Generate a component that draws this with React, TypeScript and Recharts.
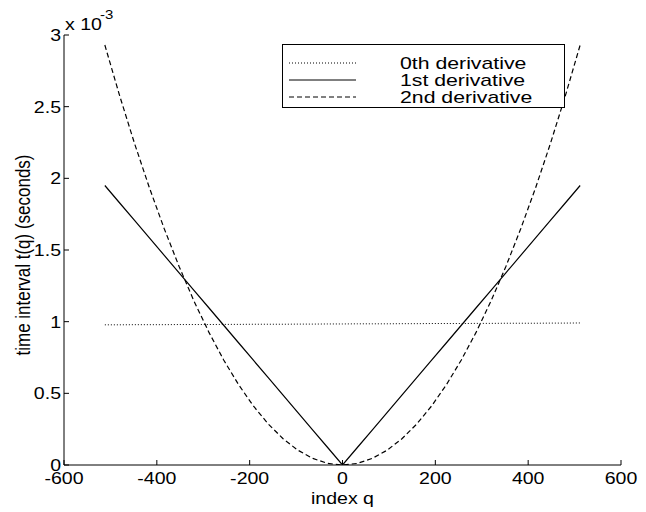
import React from 'react';
import { LineChart, Line, XAxis, YAxis } from 'recharts';

const qIndex = [-512, -480, -448, -416, -384, -352, -320, -288, -256, -224, -192, -160, -128, -96, -64, -32, 0, 32, 64, 96, 128, 160, 192, 224, 256, 288, 320, 352, 384, 416, 448, 480, 512];
const zerothDerivative = [0.978, 0.978, 0.979, 0.979, 0.979, 0.98, 0.98, 0.98, 0.981, 0.981, 0.982, 0.982, 0.982, 0.983, 0.983, 0.984, 0.984, 0.985, 0.985, 0.985, 0.986, 0.986, 0.987, 0.987, 0.987, 0.988, 0.988, 0.989, 0.989, 0.989, 0.99, 0.99, 0.991];
const firstDerivative = [1.95, 1.828, 1.706, 1.584, 1.463, 1.341, 1.219, 1.097, 0.975, 0.853, 0.731, 0.609, 0.488, 0.366, 0.244, 0.122, 0, 0.122, 0.244, 0.366, 0.488, 0.609, 0.731, 0.853, 0.975, 1.097, 1.219, 1.341, 1.463, 1.584, 1.706, 1.828, 1.95];
const secondDerivative = [2.93, 2.575, 2.243, 1.934, 1.648, 1.385, 1.144, 0.927, 0.733, 0.561, 0.412, 0.286, 0.183, 0.103, 0.046, 0.011, 0, 0.011, 0.046, 0.103, 0.183, 0.286, 0.412, 0.561, 0.733, 0.927, 1.144, 1.385, 1.648, 1.934, 2.243, 2.575, 2.93];

const xTicks = [-600, -400, -200, 0, 200, 400, 600];
const yTicks = [0, 0.5, 1, 1.5, 2, 2.5, 3];
const legendLabels = ['0th derivative', '1st derivative', '2nd derivative'];

const data = qIndex.map((q, i) => ({
  q,
  zeroth: zerothDerivative[i],
  first: firstDerivative[i],
  second: secondDerivative[i],
}));

const FONT = '"Liberation Sans", Arial, Helvetica, sans-serif';
const FS = 17;
const SX = 1.15;

const BottomTick = (p: any) => {
  const { x, y, payload } = p;
  return (
    <g>
      <line x1={x} x2={x} y1={y} y2={y - 5} stroke="#000" strokeWidth={1} />
      <text transform={`translate(${x},${y + 19}) scale(${SX},1)`} textAnchor="middle" fontSize={FS} fontFamily={FONT} fill="#000">
        {payload.value}
      </text>
    </g>
  );
};

const TopTick = (p: any) => {
  const { x, y } = p;
  return <line x1={x} x2={x} y1={y} y2={y + 5} stroke="#000" strokeWidth={1} />;
};

const LeftTick = (p: any) => {
  const { x, y, payload } = p;
  return (
    <g>
      <line x1={x} x2={x + 5} y1={y} y2={y} stroke="#000" strokeWidth={1} />
      <text transform={`translate(${x - 3},${y + 6}) scale(${SX},1)`} textAnchor="end" fontSize={FS} fontFamily={FONT} fill="#000">
        {payload.value}
      </text>
    </g>
  );
};

const RightTick = (p: any) => {
  const { x, y } = p;
  return <line x1={x} x2={x - 5} y1={y} y2={y} stroke="#000" strokeWidth={1} />;
};

const YLabel = (p: any) => {
  const vb = p.viewBox || { x: 4, y: 35, width: 60, height: 430 };
  const cy = vb.y + vb.height / 2 + 5;
  return (
    <g>
      <text transform={`translate(30,${cy}) rotate(-90) scale(1,${SX})`} textAnchor="middle" fontSize={FS} fontFamily={FONT} fill="#000">
        time interval t(q) (seconds)
      </text>
      <text transform={`translate(${vb.x + vb.width + 1},30) scale(${SX},1)`} fontSize={FS} fontFamily={FONT} fill="#000">
        x 10
      </text>
      <text transform={`translate(${vb.x + vb.width + 36},19) scale(${SX},1)`} fontSize={13} fontFamily={FONT} fill="#000">
        -3
      </text>
    </g>
  );
};

const XLabel = (p: any) => {
  const vb = p.viewBox || { x: 64, y: 465, width: 557, height: 30 };
  return (
    <text transform={`translate(${vb.x + vb.width / 2},504) scale(${SX},1)`} textAnchor="middle" fontSize={FS} fontFamily={FONT} fill="#000">
      index q
    </text>
  );
};

const legendStyles = [
  { dash: '1 2' },
  { dash: undefined },
  { dash: '5 3' },
];

const LegendBox = () => (
  <div style={{ position: 'absolute', left: 282, top: 44, width: 283, height: 64, border: '1px solid #000', background: '#fff', boxSizing: 'border-box' }}>
    <svg width={281} height={62}>
      {legendLabels.map((label, i) => {
        const cy = 18 + i * 17;
        return (
          <g key={label}>
            <line x1={6} x2={73} y1={cy} y2={cy} stroke="#000" strokeWidth={1} strokeDasharray={legendStyles[i].dash} />
            <text transform={`translate(117,${cy + 6}) scale(${SX + 0.1},1)`} fontSize={FS} fontFamily={FONT} fill="#000">
              {label}
            </text>
          </g>
        );
      })}
    </svg>
  </div>
);

export default function App() {
  return (
    <div style={{ position: 'absolute', left: 0, top: 0, width: 646, height: 512, background: '#fff' }}>
      <LineChart width={646} height={512} data={data} margin={{ top: 35, right: 25, bottom: 17, left: 4 }}>
        <XAxis
          dataKey="q"
          type="number"
          domain={[-600, 600]}
          ticks={xTicks}
          interval={0}
          tickSize={0}
          tickMargin={0}
          tickLine={false}
          tick={<BottomTick />}
          axisLine={{ stroke: '#000', strokeWidth: 1 }}
          height={30}
          label={<XLabel />}
          allowDataOverflow
        />
        <XAxis
          xAxisId="top"
          orientation="top"
          dataKey="q"
          type="number"
          domain={[-600, 600]}
          ticks={xTicks}
          interval={0}
          tickSize={0}
          tickMargin={0}
          tickLine={false}
          tick={<TopTick />}
          axisLine={{ stroke: '#000', strokeWidth: 1 }}
          height={0}
          allowDataOverflow
        />
        <YAxis
          type="number"
          domain={[0, 3]}
          ticks={yTicks}
          interval={0}
          tickSize={0}
          tickMargin={0}
          tickLine={false}
          tick={<LeftTick />}
          axisLine={{ stroke: '#000', strokeWidth: 1 }}
          width={60}
          label={<YLabel />}
          allowDataOverflow
        />
        <YAxis
          yAxisId="right"
          orientation="right"
          type="number"
          domain={[0, 3]}
          ticks={yTicks}
          interval={0}
          tickSize={0}
          tickMargin={0}
          tickLine={false}
          tick={<RightTick />}
          axisLine={{ stroke: '#000', strokeWidth: 1 }}
          width={0}
          allowDataOverflow
        />
        <Line dataKey="zeroth" stroke="#000" strokeWidth={1} strokeDasharray="1 2" dot={false} isAnimationActive={false} />
        <Line dataKey="first" stroke="#000" strokeWidth={1.2} dot={false} isAnimationActive={false} />
        <Line dataKey="second" stroke="#000" strokeWidth={1.2} strokeDasharray="5 3" dot={false} isAnimationActive={false} />
      </LineChart>
      <LegendBox />
    </div>
  );
}
